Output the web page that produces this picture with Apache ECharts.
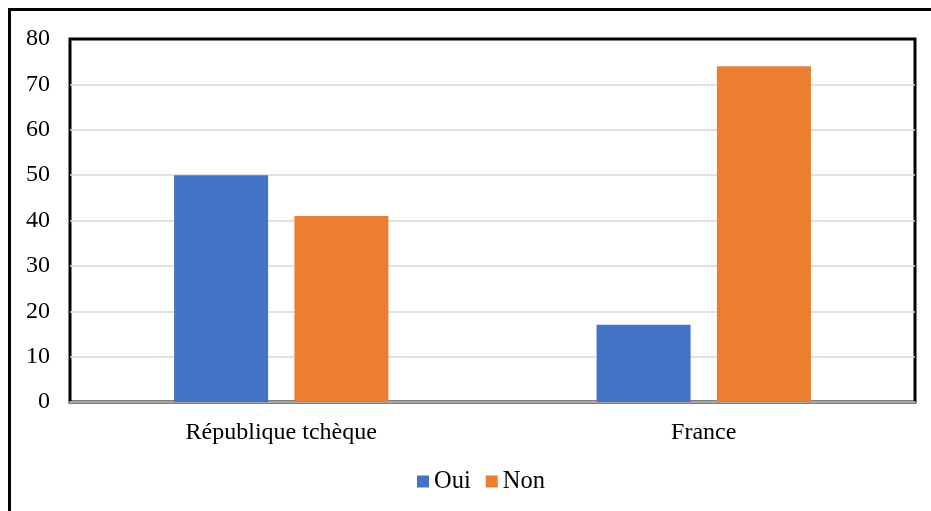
<!DOCTYPE html>
<html><head><meta charset="utf-8">
<script src="https://cdn.jsdelivr.net/npm/echarts@6/dist/echarts.min.js"></script>
<style>html,body{margin:0;padding:0;background:#fff}#c{width:931px;height:511px}</style>
</head><body><div id="c"></div>
<script>
const categories = ['République tchèque', 'France'];
const oui = [50, 17];
const non = [41, 74];
const yTicks = [0, 80, 10];
const chart = echarts.init(document.getElementById('c'));
const font = 'Liberation Serif, Times New Roman, serif';
chart.setOption({
  animation: false,
  graphic: [{type:'rect', shape:{x:9.5,y:9.5,width:940,height:520}, style:{fill:'none', stroke:'#000', lineWidth:3}, z:0}],
  grid: {left:70, right:16, top:39, bottom:109, show:true, borderColor:'#000', borderWidth:3, backgroundColor:'transparent'},
  legend: {bottom: 12, left:412, itemWidth:12, itemHeight:12, itemGap:15, icon:'rect',
    textStyle:{fontFamily:font, fontSize:24.5, color:'#000'}, data:['Oui','Non']},
  xAxis: {type:'category', data: categories,
    axisLine:{lineStyle:{color:'#a6a6a6', width:2}}, axisTick:{show:false},
    axisLabel:{fontFamily:font, fontSize:24, color:'#000', margin:19}},
  yAxis: {type:'value', min:yTicks[0], max:yTicks[1], interval:yTicks[2],
    axisLine:{show:false}, axisTick:{show:false},
    axisLabel:{fontFamily:font, fontSize:24, color:'#000', margin:20},
    splitLine:{showMaxLine:false, showMinLine:false, lineStyle:{color:'#d9d9d9', width:1.5}}},
  series: [
    {name:'Oui', type:'bar', data: oui, barWidth:94, barGap:'28%', itemStyle:{color:'#4472C4'}},
    {name:'Non', type:'bar', data: non, barWidth:94, itemStyle:{color:'#ED7D31'}}
  ]
});
</script></body></html>
